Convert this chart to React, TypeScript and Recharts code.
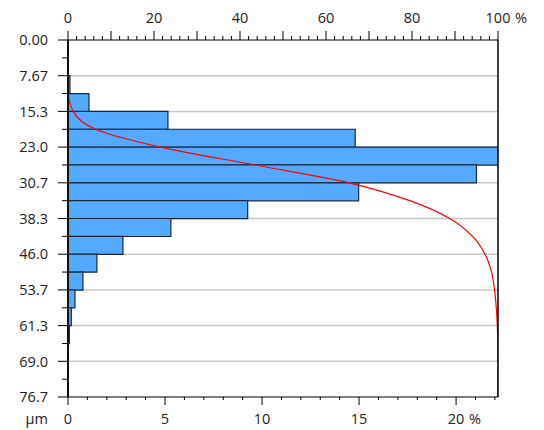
import React from 'react';
import {
  ComposedChart,
  Bar,
  Line,
  XAxis,
  YAxis,
  CartesianGrid
} from 'recharts';

// particle size bins (µm, bin centres) and their share (%)
const binCenters = [
  1.92, 5.75, 9.59, 13.42, 17.26, 21.09, 24.93, 28.76, 32.6, 36.43,
  40.27, 44.1, 47.94, 51.77, 55.61, 59.44, 63.28, 67.11, 70.95, 74.78
];
const binPercent = [
  0, 0, 0.1, 1.08, 5.15, 14.8, 22.16, 21.05, 14.98, 9.26,
  5.3, 2.83, 1.49, 0.77, 0.36, 0.17, 0.07, 0, 0, 0
];

// cumulative curve (undersize %), read at the bin edges
const edgeSizes = [
  0, 3.835, 7.67, 11.5, 15.34, 19.18, 23.01, 26.85, 30.68, 34.52, 38.35,
  42.19, 46.02, 49.86, 53.69, 57.53, 61.36, 65.2, 69.03, 72.87, 76.7
];
const cumPercent = [
  0, 0, 0, 0.1, 1.2, 6.4, 21.5, 43.5, 65.4, 79.5, 88.8,
  94.1, 97.0, 98.5, 99.2, 99.6, 99.85, 99.95, 100, 100, 100
];

const SIZE_MAX = 76.7;
const sizeTicks = edgeSizes;
const sizeTickLabels = ['0.00', '7.67', '15.3', '23.0', '30.7', '38.3', '46.0', '53.7', '61.3', '69.0', '76.7'];
const majorSizes = [7.67, 15.34, 23.01, 30.68, 38.35, 46.02, 53.69, 61.36, 69.03];
const pctTicks = Array.from({ length: 23 }, (_, i) => i);
const cumTicks = Array.from({ length: 51 }, (_, i) => i * 2);

const barData = binCenters.map((size, i) => ({ size, pct: binPercent[i] }));
const curveData = edgeSizes.map((size, i) => ({ size, cum: cumPercent[i] }));

const FONT = '"Open Sans", sans-serif';
const textStyle = { fontFamily: FONT, fontSize: 14.5, fill: '#222' };

const TopTick = (props: any) => {
  const { x, y, payload } = props;
  const v = payload.value;
  const major = v % 10 === 0;
  return (
    <g>
      <line x1={x} x2={x} y1={y} y2={y - (major ? 9 : 4)} stroke="#000" />
      {v % 20 === 0 && (
        <text x={x} y={y - 17} textAnchor="middle" style={textStyle}>{v}</text>
      )}
      {v === 100 && (
        <text x={x + 17} y={y - 17} textAnchor="start" style={textStyle}>%</text>
      )}
    </g>
  );
};

const BottomTick = (props: any) => {
  const { x, y, payload } = props;
  const v = payload.value;
  const major = v % 5 === 0;
  return (
    <g>
      <line x1={x} x2={x} y1={y} y2={y + (major ? 8 : 3)} stroke="#000" />
      {major && (
        <text x={x} y={y + 27} textAnchor="middle" style={textStyle}>{v}</text>
      )}
      {v === 20 && (
        <text x={x + 13} y={y + 27} textAnchor="start" style={textStyle}>%</text>
      )}
      {v === 0 && (
        <text x={x - 20} y={y + 27} textAnchor="end" style={textStyle}>µm</text>
      )}
    </g>
  );
};

const LeftTick = (props: any) => {
  const { x, y, index } = props;
  const major = index % 2 === 0;
  return (
    <g>
      <line x1={x - (major ? 10 : 6)} x2={x} y1={y} y2={y} stroke="#000" />
      {major && (
        <text x={x - 20} y={y} dy="0.36em" textAnchor="end" style={textStyle}>
          {sizeTickLabels[index / 2]}
        </text>
      )}
    </g>
  );
};

export default function App() {
  return (
    <div style={{ position: 'absolute', left: 0, top: 0, background: '#fff' }}>
      <ComposedChart
        width={544}
        height={430}
        data={barData}
        layout="vertical"
        barCategoryGap={0}
        margin={{ top: 10, right: 45, bottom: 5, left: 8 }}
      >
        <CartesianGrid
          vertical={false}
          stroke="#c8c8c8"
          strokeWidth={1.5}
          yAxisId="size"
          xAxisId="pct"
          horizontalCoordinatesGenerator={({ offset }: any) =>
            majorSizes.map((v) => offset.top + (offset.height * v) / SIZE_MAX)
          }
        />
        <XAxis
          xAxisId="pct"
          type="number"
          orientation="bottom"
          domain={[0, 22.16]}
          ticks={pctTicks}
          interval={0}
          height={28}
          tickSize={0}
          tickMargin={0}
          tick={BottomTick}
          axisLine={{ stroke: '#000' }}
          allowDataOverflow
        />
        <XAxis
          xAxisId="cum"
          type="number"
          orientation="top"
          domain={[0, 100]}
          ticks={cumTicks}
          interval={0}
          height={30}
          tickSize={0}
          tickMargin={0}
          tick={TopTick}
          axisLine={{ stroke: '#000' }}
          allowDataOverflow
        />
        <YAxis
          yAxisId="size"
          type="number"
          dataKey="size"
          domain={[0, SIZE_MAX]}
          ticks={sizeTicks}
          interval={0}
          width={60}
          tickSize={0}
          tickMargin={0}
          tick={LeftTick}
          axisLine={{ stroke: '#111', strokeWidth: 2 }}
          allowDataOverflow
        />
        <YAxis
          yAxisId="curve"
          type="number"
          dataKey="size"
          orientation="right"
          domain={[0, SIZE_MAX]}
          width={1}
          tick={false}
          tickLine={false}
          axisLine={{ stroke: '#000', strokeWidth: 1.5 }}
          allowDataOverflow
        />
        <Bar
          dataKey="pct"
          xAxisId="pct"
          yAxisId="size"
          fill="#55aaff"
          stroke="#16283a"
          strokeWidth={1.2}
          isAnimationActive={false}
        />
        <Line
          data={curveData}
          dataKey="cum"
          xAxisId="cum"
          yAxisId="curve"
          type="monotone"
          stroke="#ff0000"
          strokeWidth={1.2}
          dot={false}
          activeDot={false}
          isAnimationActive={false}
        />
      </ComposedChart>
    </div>
  );
}
